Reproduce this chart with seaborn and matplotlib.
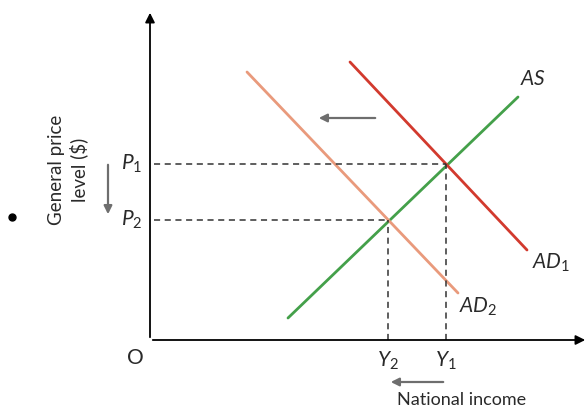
import matplotlib
matplotlib.use("Agg")
import matplotlib.pyplot as plt
import seaborn as sns
import pandas as pd

sns.set_theme(style="white")
plt.rcParams['font.family'] = ['Lato', 'DejaVu Sans']
plt.rcParams['mathtext.fontset'] = 'custom'
plt.rcParams['mathtext.it'] = 'Lato:italic'
plt.rcParams['mathtext.rm'] = 'Lato'

# Curves (x = national income, y = price level), endpoints
curves = ["AS", "AD1", "AD2"]
curve_x = [[138, 368], [200, 377], [97, 308]]
curve_y = [[22, 243], [278, 90], [268, 47]]
colors = {"AS": "#44a04a", "AD1": "#d23a2e", "AD2": "#e99a7c"}

# Equilibria
eq_income = [296, 238]      # Y1, Y2
eq_price = [176, 120]       # P1, P2
income_labels = ["$Y_1$", "$Y_2$"]
price_labels = ["$P_1$", "$P_2$"]

rows = []
for name, xs, ys in zip(curves, curve_x, curve_y):
    for x, y in zip(xs, ys):
        rows.append({"curve": name, "x": x, "y": y})
df = pd.DataFrame(rows)

fig = plt.figure(figsize=(5.88, 4.2), dpi=100)
ax = fig.add_axes([0, 0, 1, 1])
ax.set_xlim(-150, 438)
ax.set_ylim(-80, 340)
ax.axis("off")

sns.lineplot(data=df, x="x", y="y", hue="curve", palette=colors, ax=ax,
             linewidth=2.0, legend=False, sort=False, estimator=None, units="curve")

# axes with arrows
ax.annotate("", xy=(438, 0), xytext=(0, 0),
            arrowprops=dict(arrowstyle="-|>", color="black", lw=1.3, mutation_scale=14))
ax.annotate("", xy=(0, 330), xytext=(0, 0),
            arrowprops=dict(arrowstyle="-|>", color="black", lw=1.3, mutation_scale=14))

# dashed guides
for xi, pi in zip(eq_income, eq_price):
    ax.plot([4, xi], [pi, pi], ls=(0, (4, 3)), color="#333333", lw=1.1)
    ax.plot([xi, xi], [0, pi], ls=(0, (4, 3)), color="#333333", lw=1.1)

fs = 13
mfs = 15
tc = "#2a2a2a"
for xi, lab in zip(eq_income, income_labels):
    ax.text(xi, -10, lab, ha="center", va="top", fontsize=mfs, color=tc)
for pi, lab in zip(eq_price, price_labels):
    ax.text(-8, pi, lab, ha="right", va="center", fontsize=mfs, color=tc)

ax.text(-15, -18, "O", ha="center", va="center", fontsize=15, color=tc)
ax.text(383, 261, "$AS$", ha="center", va="center", fontsize=mfs, color=tc)
ax.text(382, 77, "$AD_1$", ha="left", va="center", fontsize=mfs, color=tc)
ax.text(309, 33, "$AD_2$", ha="left", va="center", fontsize=mfs, color=tc)

ax.text(312, -60, "National income", ha="center", va="center", fontsize=fs, color=tc)
ax.text(-82, 170, "General price\nlevel ($)", ha="center", va="center", rotation=90,
        fontsize=13.5, color=tc, linespacing=1.3)
ax.plot([-138], [123], "o", color="black", markersize=5)

gray = "#6e6e6e"
arw = dict(arrowstyle="-|>", color=gray, lw=1.6, mutation_scale=12)
ax.annotate("", xy=(166, 222), xytext=(228, 222), arrowprops=arw)
ax.annotate("", xy=(238, -42), xytext=(296, -42), arrowprops=arw)
ax.annotate("", xy=(-42, 123), xytext=(-42, 178), arrowprops=arw)

fig.savefig("out.png", dpi=100)
